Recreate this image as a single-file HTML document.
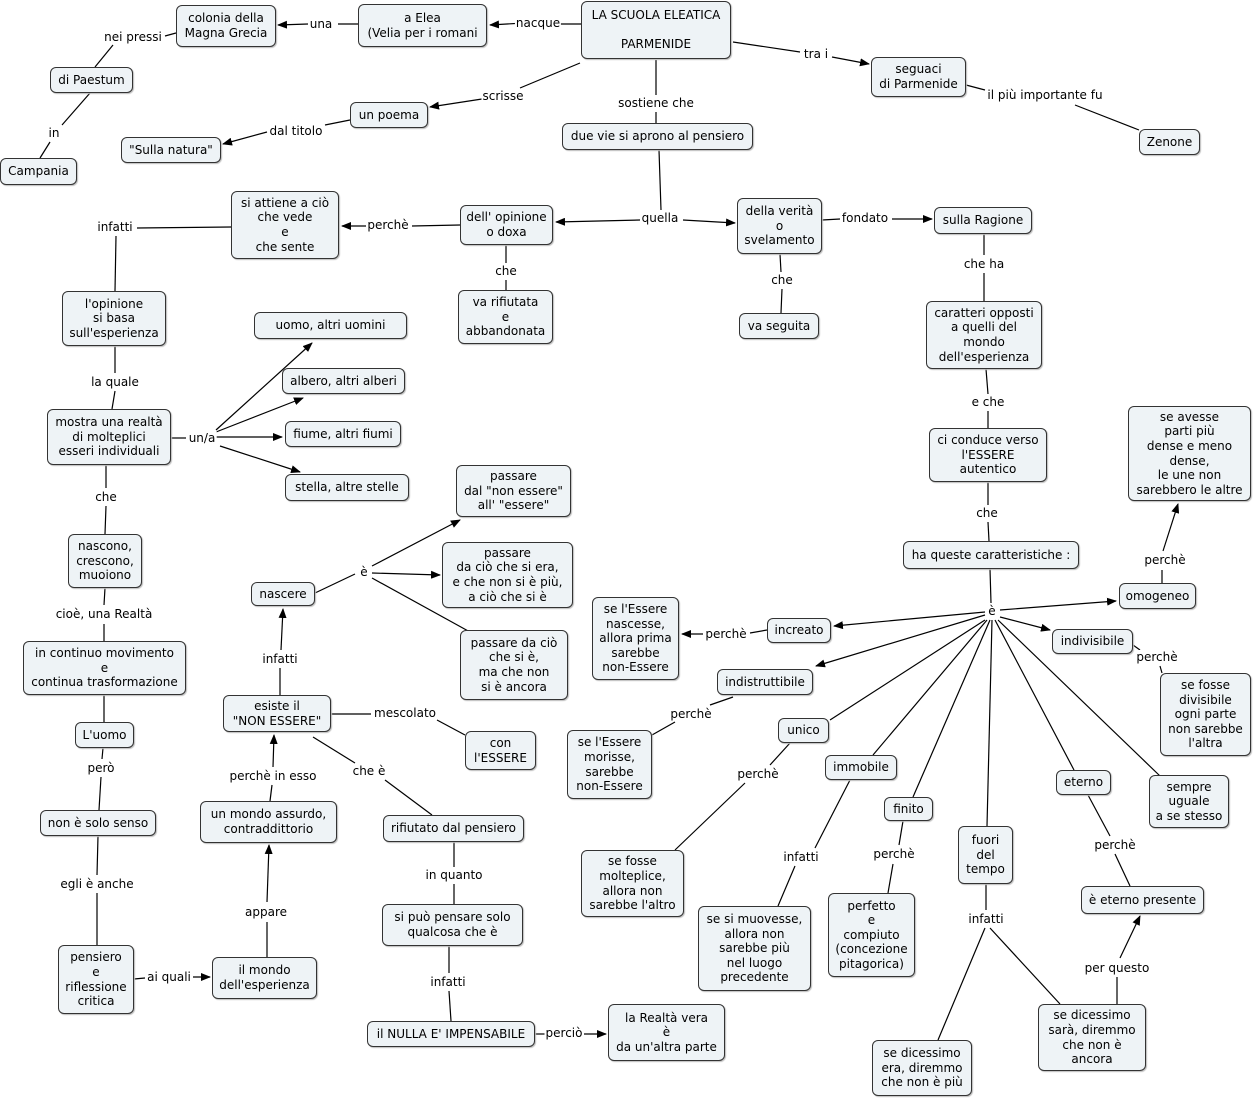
<!DOCTYPE html>
<html><head><meta charset="utf-8"><style>
body{margin:0;width:1253px;height:1100px;background:#fff;position:relative;overflow:hidden;font-family:"DejaVu Sans","Liberation Sans",sans-serif;font-size:12px;color:#000}
.n{position:absolute;box-sizing:border-box;border:1px solid #333;border-radius:6px;background:#eef3f6;display:flex;align-items:center;justify-content:center;text-align:center;line-height:14.6px;box-shadow:1px 1px 1px #bbb}
.l{position:absolute;transform:translate(-50%,-50%);background:#fff;white-space:nowrap;line-height:14px;padding:0 1px}
svg{position:absolute;left:0;top:0}
</style></head><body>
<svg width="1253" height="1100"><defs><marker id="a" markerWidth="10" markerHeight="8" refX="9" refY="4" orient="auto" markerUnits="userSpaceOnUse"><path d="M0,0L10,4L0,8z" fill="#000"/></marker></defs>
<g stroke="#000" stroke-width="1.2" fill="none" id="g"></g></svg>
<script>
var L=[
[581,24,550,24],[524,23,490,25,1],[358,24,338,24],[308,24,278,25,1],
[176,33,165,36],[113,45,95,67],[90,93,62,125],[50,142,40,158],
[733,42,800,52],[832,57,869,64,1],[966,85,985,90],[1075,105,1139,130],
[580,63,520,88],[482,99,430,107,1],[350,120,325,125],[267,132,223,144,1],
[656,60,656,95],[656,112,656,123],
[659,150,661,210],[640,220,556,222,1],[683,220,735,223,1],
[460,225,412,226],[366,226,342,226,1],[822,220,840,219],[892,219,932,219,1],
[231,227,137,228],[116,236,115,291],[506,245,506,263],[506,280,506,290],
[780,254,781,272],[782,289,781,313],[984,234,984,255],[984,273,984,301],
[115,346,115,373],[115,391,112,409],
[171,438,186,438],[216,430,312,343,1],[216,432,303,398,1],[216,437,282,437,1],[220,446,300,472,1],
[986,369,988,394],[988,411,988,428],[988,482,988,505],[988,522,989,541],
[106,465,106,488],[106,506,105,534],[105,588,104,605],[104,624,104,641],
[990,569,991,603],
[1000,610,1116,601,1],[985,612,834,626,1],[985,615,816,666,1],[1000,617,1050,630,1],
[985,620,830,720],[987,620,873,755],[990,620,913,797],[992,620,987,826],[995,620,1074,770],[998,620,1160,776],
[1162,583,1162,570],[1163,551,1178,504,1],[767,630,750,633],[703,634,682,634,1],
[1133,645,1140,650],[1160,666,1162,673],
[315,593,355,574],[372,566,460,520,1],[372,573,440,575,1],[372,578,470,632],
[280,695,280,668],[281,650,283,609,1],[331,714,371,714],[437,720,465,735],
[313,737,355,763],[385,780,432,815],[733,697,710,705],[675,722,652,735],
[790,743,770,765],[745,783,675,850],[104,695,104,722],[103,748,102,759],[101,777,99,810],
[270,801,272,785],[273,767,274,735,1],[98,836,97,875],[97,893,97,945],
[267,957,267,922],[267,902,269,845,1],[850,780,815,848],[795,866,778,906],
[903,821,899,845],[893,864,888,893],[1088,795,1110,836],[1115,854,1130,886],
[454,842,454,867],[454,884,454,904],[986,884,986,910],[985,928,938,1040],[990,928,1060,1004],
[449,946,449,973],[449,991,451,1021],[134,979,145,978],[193,977,210,977,1],
[1117,1004,1117,977],[1120,958,1140,916,1],[535,1034,545,1034],[584,1034,606,1034,1]];
var g=document.getElementById('g'),s='';
L.forEach(function(l){s+='<line x1="'+l[0]+'" y1="'+l[1]+'" x2="'+l[2]+'" y2="'+l[3]+'"'+(l[4]?' marker-end="url(#a)"':'')+'/>';});
g.innerHTML=s;
</script>
<div class="n" style="left:581px;top:1px;width:150px;height:58px">LA SCUOLA ELEATICA<br><br>PARMENIDE</div>
<div class="n" style="left:358px;top:4px;width:129px;height:43px">a Elea<br>(Velia per i romani</div>
<div class="n" style="left:176px;top:5px;width:100px;height:42px">colonia della<br>Magna Grecia</div>
<div class="n" style="left:50px;top:67px;width:83px;height:26px">di Paestum</div>
<div class="n" style="left:0px;top:158px;width:77px;height:27px">Campania</div>
<div class="n" style="left:871px;top:57px;width:95px;height:40px">seguaci<br>di Parmenide</div>
<div class="n" style="left:1139px;top:129px;width:61px;height:26px">Zenone</div>
<div class="n" style="left:350px;top:102px;width:78px;height:26px">un poema</div>
<div class="n" style="left:121px;top:137px;width:100px;height:26px">"Sulla natura"</div>
<div class="n" style="left:562px;top:123px;width:191px;height:27px">due vie si aprono al pensiero</div>
<div class="n" style="left:460px;top:205px;width:93px;height:40px">dell' opinione<br>o doxa</div>
<div class="n" style="left:737px;top:198px;width:85px;height:56px">della verità<br>o<br>svelamento</div>
<div class="n" style="left:934px;top:207px;width:98px;height:27px">sulla Ragione</div>
<div class="n" style="left:231px;top:191px;width:108px;height:68px">si attiene a ciò<br>che vede<br>e<br>che sente</div>
<div class="n" style="left:458px;top:290px;width:95px;height:54px">va rifiutata<br>e<br>abbandonata</div>
<div class="n" style="left:739px;top:313px;width:80px;height:26px">va seguita</div>
<div class="n" style="left:926px;top:301px;width:116px;height:68px">caratteri opposti<br>a quelli del<br>mondo<br>dell'esperienza</div>
<div class="n" style="left:62px;top:291px;width:104px;height:55px">l'opinione<br>si basa<br>sull'esperienza</div>
<div class="n" style="left:254px;top:312px;width:153px;height:27px">uomo, altri uomini</div>
<div class="n" style="left:282px;top:368px;width:123px;height:26px">albero, altri alberi</div>
<div class="n" style="left:285px;top:421px;width:116px;height:26px">fiume, altri fiumi</div>
<div class="n" style="left:285px;top:474px;width:124px;height:27px">stella, altre stelle</div>
<div class="n" style="left:47px;top:409px;width:124px;height:56px">mostra una realtà<br>di molteplici<br>esseri individuali</div>
<div class="n" style="left:929px;top:428px;width:118px;height:54px">ci conduce verso<br>l'ESSERE<br>autentico</div>
<div class="n" style="left:1128px;top:406px;width:123px;height:95px">se avesse<br>parti più<br>dense e meno<br>dense,<br>le une non<br>sarebbero le altre</div>
<div class="n" style="left:456px;top:465px;width:115px;height:52px">passare<br>dal "non essere"<br>all' "essere"</div>
<div class="n" style="left:442px;top:542px;width:131px;height:66px">passare<br>da ciò che si era,<br>e che non si è più,<br>a ciò che si è</div>
<div class="n" style="left:251px;top:582px;width:64px;height:24px">nascere</div>
<div class="n" style="left:903px;top:541px;width:176px;height:28px">ha queste caratteristiche :</div>
<div class="n" style="left:68px;top:534px;width:74px;height:54px">nascono,<br>crescono,<br>muoiono</div>
<div class="n" style="left:1119px;top:583px;width:77px;height:26px">omogeneo</div>
<div class="n" style="left:592px;top:597px;width:87px;height:83px">se l'Essere<br>nascesse,<br>allora prima<br>sarebbe<br>non-Essere</div>
<div class="n" style="left:767px;top:618px;width:64px;height:25px">increato</div>
<div class="n" style="left:460px;top:630px;width:108px;height:70px">passare da ciò<br>che si è,<br>ma che non<br>si è ancora</div>
<div class="n" style="left:1052px;top:629px;width:81px;height:25px">indivisibile</div>
<div class="n" style="left:23px;top:641px;width:163px;height:54px">in continuo movimento<br>e<br>continua trasformazione</div>
<div class="n" style="left:717px;top:669px;width:96px;height:26px">indistruttibile</div>
<div class="n" style="left:1160px;top:673px;width:91px;height:83px">se fosse<br>divisibile<br>ogni parte<br>non sarebbe<br>l'altra</div>
<div class="n" style="left:223px;top:695px;width:108px;height:37px">esiste il<br>"NON ESSERE"</div>
<div class="n" style="left:465px;top:731px;width:71px;height:39px">con<br>l'ESSERE</div>
<div class="n" style="left:567px;top:730px;width:85px;height:69px">se l'Essere<br>morisse,<br>sarebbe<br>non-Essere</div>
<div class="n" style="left:778px;top:718px;width:51px;height:25px">unico</div>
<div class="n" style="left:75px;top:722px;width:59px;height:26px">L'uomo</div>
<div class="n" style="left:825px;top:755px;width:72px;height:25px">immobile</div>
<div class="n" style="left:1056px;top:770px;width:55px;height:25px">eterno</div>
<div class="n" style="left:1149px;top:775px;width:80px;height:53px">sempre<br>uguale<br>a se stesso</div>
<div class="n" style="left:884px;top:797px;width:49px;height:24px">finito</div>
<div class="n" style="left:200px;top:801px;width:137px;height:42px">un mondo assurdo,<br>contraddittorio</div>
<div class="n" style="left:40px;top:810px;width:116px;height:26px">non è solo senso</div>
<div class="n" style="left:383px;top:815px;width:141px;height:27px">rifiutato dal pensiero</div>
<div class="n" style="left:958px;top:826px;width:55px;height:58px">fuori<br>del<br>tempo</div>
<div class="n" style="left:581px;top:850px;width:103px;height:67px">se fosse<br>molteplice,<br>allora non<br>sarebbe l'altro</div>
<div class="n" style="left:1081px;top:886px;width:123px;height:28px">è eterno presente</div>
<div class="n" style="left:828px;top:893px;width:87px;height:84px">perfetto<br>e<br>compiuto<br>(concezione<br>pitagorica)</div>
<div class="n" style="left:382px;top:904px;width:141px;height:42px">si può pensare solo<br>qualcosa che è</div>
<div class="n" style="left:698px;top:906px;width:113px;height:85px">se si muovesse,<br>allora non<br>sarebbe più<br>nel luogo<br>precedente</div>
<div class="n" style="left:58px;top:945px;width:76px;height:69px">pensiero<br>e<br>riflessione<br>critica</div>
<div class="n" style="left:212px;top:957px;width:105px;height:42px">il mondo<br>dell'esperienza</div>
<div class="n" style="left:608px;top:1004px;width:117px;height:57px">la Realtà vera<br>è<br>da un'altra parte</div>
<div class="n" style="left:367px;top:1021px;width:168px;height:26px">il NULLA E' IMPENSABILE</div>
<div class="n" style="left:1038px;top:1004px;width:108px;height:67px">se dicessimo<br>sarà, diremmo<br>che non è<br>ancora</div>
<div class="n" style="left:872px;top:1040px;width:100px;height:56px">se dicessimo<br>era, diremmo<br>che non è più</div>

<div class="l" style="left:321px;top:24px">una</div>
<div class="l" style="left:538px;top:23px">nacque</div>
<div class="l" style="left:816px;top:54px">tra i</div>
<div class="l" style="left:1045px;top:95px">il più importante fu</div>
<div class="l" style="left:503px;top:96px">scrisse</div>
<div class="l" style="left:656px;top:103px">sostiene che</div>
<div class="l" style="left:296px;top:131px">dal titolo</div>
<div class="l" style="left:133px;top:37px">nei pressi</div>
<div class="l" style="left:54px;top:133px">in</div>
<div class="l" style="left:660px;top:218px">quella</div>
<div class="l" style="left:388px;top:225px">perchè</div>
<div class="l" style="left:865px;top:218px">fondato</div>
<div class="l" style="left:115px;top:227px">infatti</div>
<div class="l" style="left:506px;top:271px">che</div>
<div class="l" style="left:782px;top:280px">che</div>
<div class="l" style="left:984px;top:264px">che ha</div>
<div class="l" style="left:115px;top:382px">la quale</div>
<div class="l" style="left:202px;top:438px">un/a</div>
<div class="l" style="left:988px;top:402px">e che</div>
<div class="l" style="left:106px;top:497px">che</div>
<div class="l" style="left:987px;top:513px">che</div>
<div class="l" style="left:364px;top:572px">è</div>
<div class="l" style="left:1165px;top:560px">perchè</div>
<div class="l" style="left:104px;top:614px">cioè, una Realtà</div>
<div class="l" style="left:992px;top:611px">è</div>
<div class="l" style="left:726px;top:634px">perchè</div>
<div class="l" style="left:1157px;top:657px">perchè</div>
<div class="l" style="left:280px;top:659px">infatti</div>
<div class="l" style="left:405px;top:713px">mescolato</div>
<div class="l" style="left:691px;top:714px">perchè</div>
<div class="l" style="left:273px;top:776px">perchè in esso</div>
<div class="l" style="left:369px;top:771px">che è</div>
<div class="l" style="left:101px;top:768px">però</div>
<div class="l" style="left:758px;top:774px">perchè</div>
<div class="l" style="left:97px;top:884px">egli è anche</div>
<div class="l" style="left:266px;top:912px">appare</div>
<div class="l" style="left:801px;top:857px">infatti</div>
<div class="l" style="left:894px;top:854px">perchè</div>
<div class="l" style="left:1115px;top:845px">perchè</div>
<div class="l" style="left:454px;top:875px">in quanto</div>
<div class="l" style="left:986px;top:919px">infatti</div>
<div class="l" style="left:169px;top:977px">ai quali</div>
<div class="l" style="left:1117px;top:968px">per questo</div>
<div class="l" style="left:448px;top:982px">infatti</div>
<div class="l" style="left:564px;top:1033px">perciò</div>
</body></html>
